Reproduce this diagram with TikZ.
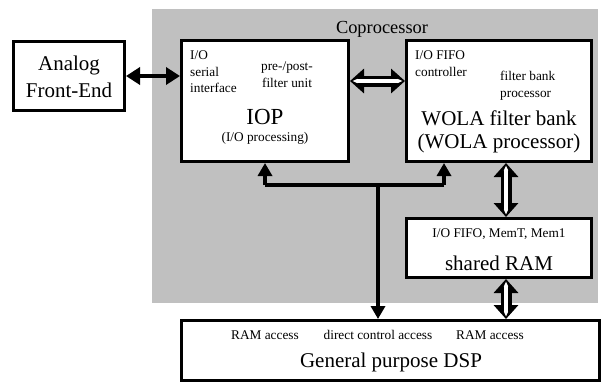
\documentclass[tikz,border=0pt]{standalone}
\usepackage{fontspec}
\setmainfont{Liberation Serif}
\usetikzlibrary{arrows.meta,calc}
\definecolor{cogray}{RGB}{192,192,192}
\begin{document}
\begin{tikzpicture}[x=1pt,y=-1pt,
  box/.style={draw=black, line width=2.6pt, fill=white, inner sep=0pt},
  big/.style={font=\fontsize{21}{24}\selectfont, inner sep=0pt, anchor=base},
  small/.style={font=\fontsize{13.3}{16}\selectfont, inner sep=0pt, anchor=base},
  smallw/.style={small, anchor=base west},
  bus/.style={line width=4pt, -{Triangle[length=13pt,width=14pt]}},
  busline/.style={line width=4pt},
  solidarr/.style={line width=4.5pt, {Triangle[length=14pt,width=17pt]}-{Triangle[length=14pt,width=17pt]}},
  hollowout/.style={line width=11pt, {Triangle[length=14pt,width=24pt]}-{Triangle[length=14pt,width=24pt]}},
  hollowin/.style={white, line width=3.5pt, shorten <=2.5pt, shorten >=2.5pt, {Triangle[length=5pt,width=4pt]}-{Triangle[length=5pt,width=4pt]}}
]
\useasboundingbox (0,0) rectangle (602,384);
% coprocessor region
\node[fill=cogray, minimum width=446, minimum height=294, inner sep=0pt, anchor=north west] (cop) at (152,9) {};
\node[font=\fontsize{18.4}{20}\selectfont, inner sep=0pt, anchor=base] (coplabel) at (382,33) {Coprocessor};
% boxes
\node[box, minimum width=111.4, minimum height=69.4] (analog) at (69,76) {};
\node[box, minimum width=167.4, minimum height=121.4] (iop) at (265,101) {};
\node[box, minimum width=185.4, minimum height=121.4] (wola) at (499,101) {};
\node[box, minimum width=185.4, minimum height=59.4] (ram) at (499,248) {};
\node[box, minimum width=418.4, minimum height=60.4] (dsp) at (390.5,350.5) {};
% texts: analog
\node[big] (an1) at (69,70) {Analog};
\node[big] (an2) at (69,97) {Front-End};
% IOP
\node[smallw] (io1) at (190,59) {I/O};
\node[smallw] (io2) at (190,76) {serial};
\node[smallw] (io3) at (190,92) {interface};
\node[small] (pp1) at (287,70) {pre-/post-};
\node[small] (pp2) at (287,87) {filter unit};
\node[font=\fontsize{23}{26}\selectfont, inner sep=0pt, anchor=base] (ioptitle) at (265,124) {IOP};
\node[small] (iopsub) at (265,141) {(I/O processing)};
% WOLA
\node[smallw] (wf1) at (415,59) {I/O FIFO};
\node[smallw] (wf2) at (415,76) {controller};
\node[smallw] (fb1) at (500,80) {filter bank};
\node[smallw] (fb2) at (500,97) {processor};
\node[big] (wt1) at (499,125) {WOLA filter bank};
\node[big] (wt2) at (499,148) {(WOLA processor)};
% RAM
\node[small] (rm1) at (499,237) {I/O FIFO, MemT, Mem1};
\node[big] (rm2) at (499,270) {shared RAM};
% DSP
\node[small] (ds1) at (265,339) {RAM access};
\node[small] (ds2) at (378,339) {direct control access};
\node[small] (ds3) at (490,339) {RAM access};
\node[big] (ds4) at (391,367) {General purpose DSP};
% connectors
\draw[solidarr] (analog.east) -- (analog.east -| iop.west);
\draw[hollowout] ([yshift=20pt]iop.east) -- ([yshift=20pt]wola.west);
\draw[hollowin] ([yshift=20pt]iop.east) -- ([yshift=20pt]wola.west);
\draw[hollowout] ([xshift=7pt]wola.south) -- ([xshift=7pt]ram.north);
\draw[hollowin] ([xshift=7pt]wola.south) -- ([xshift=7pt]ram.north);
\draw[hollowout] ([xshift=7pt]ram.south) -- ([xshift=7pt]ram.south |- dsp.north);
\draw[hollowin] ([xshift=7pt]ram.south) -- ([xshift=7pt]ram.south |- dsp.north);
\coordinate (busc) at (378,185);
\coordinate (wolain) at ([xshift=-55pt]wola.south);
\draw[busline] (iop.south |- busc) -- (wolain |- busc);
\draw[bus] (iop.south |- busc) -- (iop.south);
\draw[bus] (wolain |- busc) -- (wolain);
\draw[bus] (busc) -- (busc |- dsp.north);
\end{tikzpicture}
\end{document}
